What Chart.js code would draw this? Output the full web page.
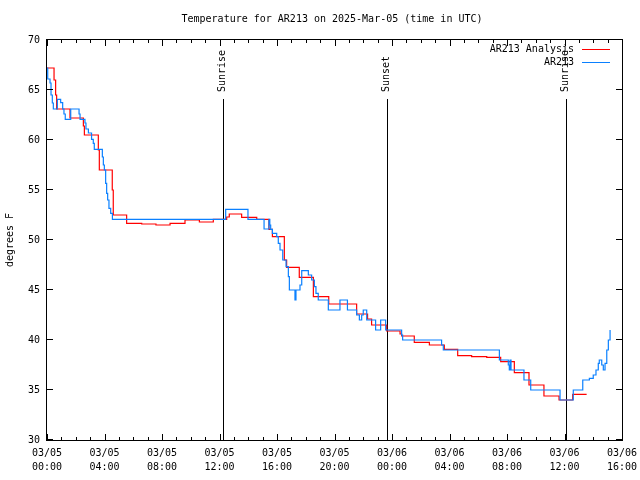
<!DOCTYPE html>
<html>
<head>
<meta charset="utf-8">
<script src="https://cdn.jsdelivr.net/npm/chart.js@4"></script>
<style>
html, body { margin: 0; padding: 0; background: #fff; }
#wrap { width: 640px; height: 480px; }
</style>
</head>
<body>
<div id="wrap"><canvas id="tempChart" width="640" height="480"></canvas></div>
<script>
// Chart text
const chartTitle = 'Temperature for AR213 on 2025-Mar-05 (time in UTC)';
const yAxisLabel = 'degrees F';
const seriesNames = ['AR213 Analysis', 'AR213'];

// Times are hours since 03/05 00:00 UTC, values are step changes
const analysisHours = [0, 0.49, 0.6, 0.67, 1.6, 2.53, 2.6, 3.57, 3.64, 4.54, 4.61, 5.54, 6.59, 7.58, 8.56, 9.6,
    10.6, 11.57, 12.5, 12.68, 13.54, 14.59, 15.44, 15.68, 16.51, 16.67, 17.55, 18.53, 19.6, 21.54, 22.3, 22.58,
    23.63, 24.56, 24.67, 25.55, 26.6, 27.64, 28.57, 29.54, 30.59, 31.56, 32.51, 33.53, 34.57, 35.62, 36.57, 37.54];
const analysisTemps = [67.2, 66.0, 64.5, 63.1, 62.2, 61.4, 60.5, 59.0, 57.0, 55.0, 52.5, 51.67, 51.6, 51.5, 51.67, 52.0,
    51.8, 52.07, 52.3, 52.6, 52.27, 52.07, 51.07, 50.33, 48.0, 47.27, 46.27, 44.33, 43.6, 42.6, 42.1, 41.5,
    40.9, 40.6, 40.4, 39.77, 39.5, 39.07, 38.43, 38.33, 38.27, 37.83, 36.73, 35.5, 34.4, 34.0, 34.57, 34.57];

const obsHours = [0, 0.05, 0.21, 0.28, 0.37, 0.44, 0.72, 0.95, 1.09, 1.18, 1.27, 1.65, 2.23, 2.3, 2.64, 2.71, 2.88,
    3.1, 3.22, 3.29, 3.85, 3.92, 3.99, 4.08, 4.15, 4.22, 4.31, 4.43, 4.55, 12.43, 13.98, 15.1, 15.44, 15.5, 15.56,
    15.68, 15.98, 16.09, 16.21, 16.4, 16.63, 16.79, 16.86, 17.25, 17.32, 17.6, 17.72, 18.18, 18.41, 18.6, 18.71,
    18.87, 19.57, 20.38, 20.9, 21.54, 21.73, 21.89, 22.0, 22.24, 22.86, 23.21, 23.56, 24.67, 24.74, 27.45, 27.57,
    31.47, 32.09, 32.16, 32.21, 32.28, 33.18, 33.65, 35.69, 36.61, 37.27, 37.73, 38.0, 38.19, 38.35, 38.42, 38.59,
    38.7, 38.82, 38.94, 39.05, 39.17];
const obsTemps = [67.2, 66.1, 65.7, 64.5, 63.7, 63.1, 64.07, 63.73, 63.1, 62.6, 62.07, 63.1, 62.6, 62.07, 61.7, 61.1, 60.7,
    60.07, 59.67, 59.07, 58.3, 57.5, 57.0, 55.67, 54.67, 54.0, 53.17, 52.67, 52.07, 53.07, 52.07, 51.1, 52.07, 51.5, 51.07,
    50.67, 50.33, 49.67, 49.0, 48.0, 47.33, 46.33, 45.0, 44.0, 45.0, 45.5, 46.93, 46.5, 46.0, 45.33, 44.67,
    44.0, 43.0, 44.0, 43.0, 42.5, 42.0, 42.5, 43.0, 42.0, 41.0, 42.0, 41.0, 40.5, 40.0, 39.5, 39.0,
    38.0, 37.5, 37.0, 38.0, 37.0, 36.0, 35.0, 34.0, 35.0, 36.0, 36.17, 36.5, 37.0, 37.67, 38.0, 37.5,
    37.0, 37.67, 39.0, 40.0, 41.0];

// Axis ticks
const xTickDates = ['03/05', '03/05', '03/05', '03/05', '03/05', '03/05', '03/06', '03/06', '03/06', '03/06', '03/06'];
const xTickTimes = ['00:00', '04:00', '08:00', '12:00', '16:00', '20:00', '00:00', '04:00', '08:00', '12:00', '16:00'];
const yTicks = [30, 35, 40, 45, 50, 55, 60, 65, 70];

// Sun events (hours since 03/05 00:00 UTC)
const eventNames = ['Sunrise', 'Sunset', 'Sunrise'];
const eventHours = [12.21, 23.67, 36.1];

const monoFont = '"DejaVu Sans Mono", "Liberation Mono", monospace';
const red = '#ff0000';
const blue = '#0a80ff';

function toPoints(xs, ys) {
    return xs.map((x, i) => ({ x: x, y: ys[i] }));
}

function crisp(v) {
    return Math.round(v) + 0.5;
}

// Title, axis label, sun lines, frame, ticks and key
const decorPlugin = {
    id: 'decor',
    beforeDatasetsDraw(chart) {
        const ctx = chart.ctx;
        const area = chart.chartArea;
        const xs = chart.scales.x;
        ctx.save();
        ctx.strokeStyle = '#000';
        ctx.lineWidth = 1;
        ctx.fillStyle = '#000';
        ctx.font = '10px ' + monoFont;
        eventHours.forEach((h, i) => {
            const px = crisp(xs.getPixelForValue(h));
            ctx.beginPath();
            ctx.moveTo(px, area.top + 59);
            ctx.lineTo(px, area.bottom);
            ctx.stroke();
            ctx.save();
            ctx.translate(px - 1, area.top + 52);
            ctx.rotate(-Math.PI / 2);
            ctx.textAlign = 'left';
            ctx.textBaseline = 'middle';
            ctx.fillText(eventNames[i], 0, 0);
            ctx.restore();
        });
        ctx.restore();
    },
    afterDatasetsDraw(chart) {
        const ctx = chart.ctx;
        const area = chart.chartArea;
        const xs = chart.scales.x;
        const ys = chart.scales.y;
        ctx.save();
        ctx.strokeStyle = '#000';
        ctx.lineWidth = 1;

        // frame
        ctx.strokeRect(crisp(area.left) - 1, crisp(area.top) - 1, Math.round(area.right - area.left) + 1, Math.round(area.bottom - area.top) + 1);

        // x ticks: hourly minor, 4-hourly major, mirrored on top
        ctx.beginPath();
        for (let h = 0; h <= 40; h++) {
            const px = crisp(xs.getPixelForValue(h));
            const len = h % 4 === 0 ? 6 : 3;
            ctx.moveTo(px, area.bottom);
            ctx.lineTo(px, area.bottom - len);
            ctx.moveTo(px, area.top);
            ctx.lineTo(px, area.top + len);
        }
        // y ticks, mirrored on right
        yTicks.forEach(v => {
            const py = crisp(ys.getPixelForValue(v)) - 1;
            ctx.moveTo(area.left, py);
            ctx.lineTo(area.left + 6, py);
            ctx.moveTo(area.right, py);
            ctx.lineTo(area.right - 6, py);
        });
        ctx.stroke();

        // title and y label
        ctx.fillStyle = '#000';
        ctx.font = '10px ' + monoFont;
        ctx.textAlign = 'center';
        ctx.textBaseline = 'middle';
        ctx.fillText(chartTitle, 332, 19);
        ctx.save();
        ctx.translate(10, 240);
        ctx.rotate(-Math.PI / 2);
        ctx.fillText(yAxisLabel, 0, 0);
        ctx.restore();

        // key, top right
        const colors = [red, blue];
        seriesNames.forEach((name, i) => {
            const py = 49 + i * 13;
            ctx.textAlign = 'right';
            ctx.fillText(name, 574, py);
            ctx.strokeStyle = colors[i];
            ctx.beginPath();
            ctx.moveTo(582, py + 0.5);
            ctx.lineTo(610, py + 0.5);
            ctx.stroke();
        });
        ctx.restore();
    }
};

const ctx = document.getElementById('tempChart').getContext('2d');
const tempChart = new Chart(ctx, {
    type: 'line',
    data: {
        datasets: [
            {
                label: seriesNames[0],
                data: toPoints(analysisHours, analysisTemps),
                borderColor: red,
                borderWidth: 1.2,
                stepped: true,
                pointRadius: 0,
                fill: false,
                order: 1
            },
            {
                label: seriesNames[1],
                data: toPoints(obsHours, obsTemps),
                borderColor: blue,
                borderWidth: 1.2,
                stepped: true,
                pointRadius: 0,
                fill: false,
                order: 0
            }
        ]
    },
    options: {
        responsive: false,
        animation: false,
        devicePixelRatio: 1,
        layout: {
            padding: { left: 0, right: 18, top: 40, bottom: 0 }
        },
        plugins: {
            legend: { display: false },
            tooltip: { enabled: false },
            title: { display: false }
        },
        scales: {
            x: {
                type: 'linear',
                min: 0,
                max: 40,
                grid: { display: false, drawTicks: false },
                border: { display: false },
                afterFit: (scale) => {
                    scale.height = 40;
                    scale.paddingLeft = 0;
                    scale.paddingRight = 0;
                },
                afterBuildTicks: (scale) => {
                    scale.ticks = xTickTimes.map((t, i) => ({ value: i * 4 }));
                },
                ticks: {
                    autoSkip: false,
                    maxRotation: 0,
                    padding: 6,
                    color: '#000',
                    font: { family: monoFont, size: 10, lineHeight: 1.45 },
                    callback: (value) => {
                        const i = Math.round(value / 4);
                        return [xTickDates[i], xTickTimes[i]];
                    }
                }
            },
            y: {
                type: 'linear',
                min: 30,
                max: 70,
                grid: { display: false, drawTicks: false },
                border: { display: false },
                afterFit: (scale) => {
                    scale.width = 47;
                    scale.paddingTop = 0;
                    scale.paddingBottom = 0;
                },
                afterBuildTicks: (scale) => {
                    scale.ticks = yTicks.map(v => ({ value: v }));
                },
                ticks: {
                    padding: 7,
                    color: '#000',
                    font: { family: monoFont, size: 10 }
                }
            }
        }
    },
    plugins: [decorPlugin]
});
</script>
</body>
</html>
